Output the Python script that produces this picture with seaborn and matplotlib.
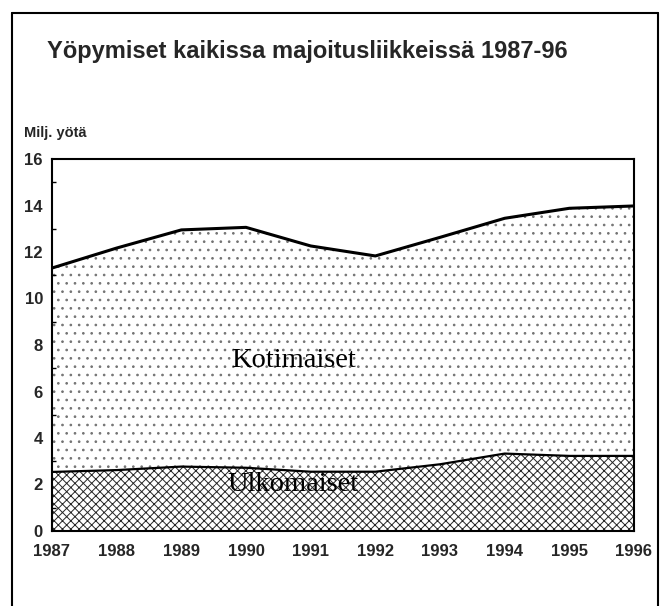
import numpy as np
import pandas as pd
import matplotlib
matplotlib.use("Agg")
import matplotlib.pyplot as plt
import seaborn as sns
from matplotlib.lines import Line2D
from matplotlib.ticker import MultipleLocator
from matplotlib import font_manager

# ---- data (million nights) ----
years = [1987, 1988, 1989, 1990, 1991, 1992, 1993, 1994, 1995, 1996]
ulkomaiset = [2.54, 2.62, 2.77, 2.72, 2.55, 2.55, 2.87, 3.33, 3.23, 3.23]
kotimaiset = [8.77, 9.55, 10.18, 10.34, 9.71, 9.28, 9.76, 10.12, 10.65, 10.75]
year_labels = ["1987", "1988", "1989", "1990", "1991", "1992", "1993", "1994", "1995", "1996"]
title = "Yöpymiset kaikissa majoitusliikkeissä 1987-96"
unit_label = "Milj. yötä"
label_dom = "Kotimaiset"
label_for = "Ulkomaiset"

sns.set_style("white")
plt.rcParams["font.family"] = ["Liberation Sans", "DejaVu Sans"]
plt.rcParams["hatch.linewidth"] = 0.7

installed = {f.name for f in font_manager.fontManager.ttflist}
if "Liberation Sans Narrow" in installed:
    title_family, title_size = ["Liberation Sans Narrow", "DejaVu Sans"], 20.5
else:
    title_family, title_size = ["Liberation Sans", "DejaVu Sans"], 17

df = pd.DataFrame({"Vuosi": years, "Ulkomaiset": ulkomaiset, "Kotimaiset": kotimaiset})
df["Yhteensä"] = df["Ulkomaiset"] + df["Kotimaiset"]

fig = plt.figure(figsize=(6.67, 6.06), dpi=100)
ax = fig.add_axes([52 / 667, 1 - 531 / 606, (634 - 52) / 667, (531 - 159) / 606])
ax.set_axisbelow(False)

ax.fill_between(df["Vuosi"], 0, df["Ulkomaiset"], facecolor="white",
                edgecolor="0.15", hatch="xxxx", linewidth=0)
ax.fill_between(df["Vuosi"], df["Ulkomaiset"], df["Yhteensä"], facecolor="white",
                edgecolor="0.45", hatch="..", linewidth=0)
sns.lineplot(data=df, x="Vuosi", y="Yhteensä", color="black", lw=2.2, ax=ax)
sns.lineplot(data=df, x="Vuosi", y="Ulkomaiset", color="black", lw=1.6, ax=ax)

ax.set_xlim(1987, 1996)
ax.set_ylim(0, 16)
ax.set_xticks(years)
ax.set_xticklabels(year_labels)
ax.yaxis.set_major_locator(MultipleLocator(2))
ax.yaxis.set_minor_locator(MultipleLocator(1))
ax.set_xlabel("")
ax.set_ylabel("")
ax.tick_params(axis="both", which="both", direction="in", color="black")
ax.tick_params(axis="y", which="major", length=5, width=1.2, pad=6.5,
               labelsize=12)
ax.tick_params(axis="y", which="minor", length=3, width=1.0, left=True)
ax.tick_params(axis="x", which="major", length=3.5, width=1.0, pad=9,
               labelsize=12)
for lab in ax.get_xticklabels() + ax.get_yticklabels():
    lab.set_fontweight("bold")
for sp in ax.spines.values():
    sp.set_visible(True)
    sp.set_color("black")
    sp.set_linewidth(1.5)

serif = ["Liberation Serif", "DejaVu Serif"]
ax.text(1990.73, 7.05, label_dom, ha="center", va="baseline", family=serif,
        fontsize=20.5, color="black")
ax.text(1990.73, 1.73, label_for, ha="center", va="baseline", family=serif,
        fontsize=20.5, color="black")

fig.text(47 / 667, 1 - 58 / 606, title, ha="left", va="baseline",
         fontsize=title_size, fontweight="bold", family=title_family)
fig.text(24 / 667, 1 - 133 / 606, unit_label, ha="left", va="center",
         fontsize=10.5, fontweight="bold")

# outer frame
fx0, fx1, fy0 = 12 / 667, 658 / 667, 1 - 13 / 606
fig.add_artist(Line2D([fx0, fx1], [fy0, fy0], color="black", lw=1.5))
fig.add_artist(Line2D([fx0, fx0], [fy0, -0.01], color="black", lw=1.5))
fig.add_artist(Line2D([fx1, fx1], [fy0, -0.01], color="black", lw=1.5))

fig.savefig("out.png", dpi=100)
